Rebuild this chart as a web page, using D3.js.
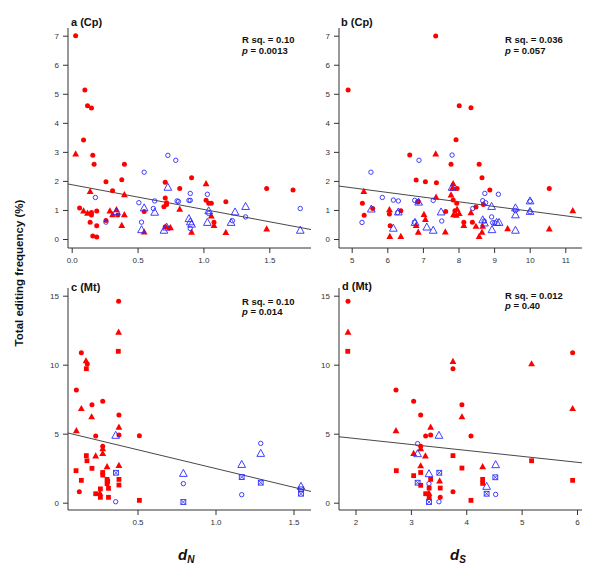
<!DOCTYPE html>
<html><head><meta charset="utf-8">
<script src="https://cdn.jsdelivr.net/npm/d3@7"></script>
<style>body{margin:0;background:#fff;} svg{display:block;font-family:"Liberation Sans",Arial,sans-serif;}</style>
</head><body><svg id="chart" width="600" height="574"></svg>
<script>
// ---- data: [x, y, marker] ; rc=red circle, rt=red triangle, rs=red square, bc=blue circle, bt=blue triangle, bx=blue crossed square
const pointsA = [
 [0.03,7.0,"rc"],[0.10,5.13,"rc"],[0.12,4.59,"rc"],[0.15,4.51,"rc"],[0.09,3.41,"rc"],[0.16,2.88,"rc"],[0.17,2.57,"rc"],[0.40,2.57,"rc"],
 [0.38,2.04,"rc"],[0.26,1.97,"rc"],[0.31,1.66,"rc"],[0.71,1.95,"rc"],[0.06,1.07,"rc"],[0.19,0.96,"rc"],[0.15,0.91,"rc"],[0.15,0.83,"rc"],
 [0.35,0.83,"rc"],[0.55,0.95,"rc"],[0.70,1.11,"rc"],[0.71,1.41,"rc"],[0.72,1.25,"rc"],[0.14,0.58,"rc"],[0.19,0.46,"rc"],[0.26,0.64,"rc"],
 [0.16,0.10,"rc"],[0.19,0.07,"rc"],[0.71,0.42,"rc"],[0.74,0.38,"rc"],[0.91,2.11,"rc"],[0.82,1.74,"rc"],[1.48,1.74,"rc"],[1.68,1.69,"rc"],
 [1.02,1.33,"rc"],[1.04,1.23,"rc"],[1.06,1.23,"rc"],[1.17,1.28,"rc"],[1.08,0.58,"rc"],[0.72,1.19,"rc"],
 [0.03,2.92,"rt"],[0.14,1.63,"rt"],[0.40,1.52,"rt"],[0.09,0.96,"rt"],[0.12,0.88,"rt"],[0.29,0.96,"rt"],[0.31,0.83,"rt"],[0.34,1.0,"rt"],
 [0.40,0.83,"rt"],[0.38,0.46,"rt"],[0.55,0.24,"rt"],[1.02,1.90,"rt"],[0.82,1.02,"rt"],[1.06,0.79,"rt"],[1.08,0.46,"rt"],[0.91,0.23,"rt"],
 [1.17,0.22,"rt"],[1.48,0.34,"rt"],[0.75,0.38,"rt"],
 [0.18,1.43,"bc"],[0.55,2.30,"bc"],[0.73,2.88,"bc"],[0.79,2.71,"bc"],[0.51,1.25,"bc"],[0.63,1.31,"bc"],[0.62,1.05,"bc"],[0.26,0.58,"bc"],
 [0.53,0.58,"bc"],[0.90,1.57,"bc"],[1.03,1.54,"bc"],[0.80,1.31,"bc"],[0.81,1.29,"bc"],[0.89,1.33,"bc"],[0.90,1.33,"bc"],[1.04,0.88,"bc"],
 [1.32,0.76,"bc"],[1.22,0.63,"bc"],[0.90,0.36,"bc"],[1.735,1.05,"bc"],
 [0.73,1.77,"bt"],[0.34,0.93,"bt"],[0.55,1.06,"bt"],[0.63,0.91,"bt"],[0.53,0.31,"bt"],[0.70,0.29,"bt"],[1.32,1.11,"bt"],[1.04,0.96,"bt"],
 [1.24,0.92,"bt"],[1.21,0.56,"bt"],[0.89,0.69,"bt"],[0.90,0.58,"bt"],[0.91,0.50,"bt"],[1.03,0.56,"bt"],[1.735,0.29,"bt"],[0.72,0.40,"bt"]
];
const pointsB = [
 [4.90,5.13,"rc"],[7.36,6.99,"rc"],[6.63,2.89,"rc"],[6.81,2.03,"rc"],[7.07,1.97,"rc"],[7.38,1.94,"rc"],[5.30,1.23,"rc"],[5.35,0.82,"rc"],
 [5.59,1.05,"rc"],[6.06,0.86,"rc"],[6.38,0.97,"rc"],[6.08,0.46,"rc"],[6.87,1.28,"rc"],[7.64,0.95,"rc"],[8.02,4.59,"rc"],[8.35,4.52,"rc"],
 [7.93,3.42,"rc"],[7.79,2.57,"rc"],[8.58,2.57,"rc"],[8.66,2.11,"rc"],[7.96,1.74,"rc"],[7.85,1.34,"rc"],[7.95,1.23,"rc"],[8.88,1.69,"rc"],
 [10.55,1.74,"rc"],[8.70,1.19,"rc"],[8.49,1.10,"rc"],[7.90,0.97,"rc"],[8.15,0.58,"rc"],[8.39,0.58,"rc"],
 [7.36,2.92,"rt"],[5.34,1.63,"rt"],[6.06,1.0,"rt"],[6.07,0.08,"rt"],[6.38,0.08,"rt"],[6.81,0.46,"rt"],[6.87,0.23,"rt"],[7.03,0.84,"rt"],
 [7.07,0.67,"rt"],[7.37,1.43,"rt"],[7.63,0.24,"rt"],[7.85,1.90,"rt"],[7.83,1.74,"rt"],[7.79,1.51,"rt"],[11.21,0.97,"rt"],[7.96,1.02,"rt"],
 [7.86,0.83,"rt"],[7.94,0.81,"rt"],[8.02,0.87,"rt"],[8.35,0.90,"rt"],[8.15,0.46,"rt"],[8.49,0.43,"rt"],[8.68,0.43,"rt"],[8.66,0.23,"rt"],
 [8.58,0.08,"rt"],[9.38,0.35,"rt"],[10.55,0.34,"rt"],
 [5.54,2.30,"bc"],[6.89,2.71,"bc"],[5.29,0.57,"bc"],[5.86,1.43,"bc"],[6.17,1.34,"bc"],[6.31,1.31,"bc"],[6.29,0.91,"bc"],[6.76,0.58,"bc"],
 [6.77,1.33,"bc"],[6.85,1.28,"bc"],[7.29,1.33,"bc"],[7.53,0.62,"bc"],[7.82,2.89,"bc"],[8.74,1.57,"bc"],[9.12,1.54,"bc"],[8.68,1.32,"bc"],
 [8.76,1.25,"bc"],[8.40,1.05,"bc"],[9.60,0.98,"bc"],[10.01,1.30,"bc"],[10.01,0.94,"bc"],[8.93,0.76,"bc"],[8.96,0.56,"bc"],[9.02,0.56,"bc"],
 [8.72,0.62,"bc"],
 [5.55,1.02,"bt"],[6.31,0.92,"bt"],[6.17,0.36,"bt"],[6.78,0.56,"bt"],[6.88,1.26,"bt"],[7.11,0.40,"bt"],[7.29,0.29,"bt"],[7.51,0.92,"bt"],
 [7.82,1.77,"bt"],[8.93,1.11,"bt"],[9.60,1.06,"bt"],[9.60,0.82,"bt"],[10.01,1.30,"bt"],[10.01,0.94,"bt"],[8.68,0.65,"bt"],[8.73,0.54,"bt"],
 [9.07,0.56,"bt"],[9.14,0.56,"bt"],[8.94,0.31,"bt"],[9.60,0.29,"bt"]
];
const pointsC = [
 [0.379,14.59,"rc"],[0.140,10.87,"rc"],[0.178,10.05,"rc"],[0.108,8.17,"rc"],[0.277,7.35,"rc"],[0.208,7.10,"rc"],[0.381,6.36,"rc"],
 [0.381,4.91,"rc"],[0.232,4.84,"rc"],[0.512,4.86,"rc"],[0.277,4.09,"rc"],[0.127,0.80,"rc"],
 [0.379,12.35,"rt"],[0.170,10.27,"rt"],[0.140,6.81,"rt"],[0.206,6.21,"rt"],[0.108,5.20,"rt"],[0.381,5.46,"rt"],[0.277,3.90,"rt"],
 [0.277,3.56,"rt"],[0.232,3.38,"rt"],[0.305,2.59,"rt"],[0.381,2.68,"rt"],[0.259,0.67,"rt"],
 [0.377,10.97,"rs"],[0.172,9.71,"rs"],[0.172,3.41,"rs"],[0.176,3.04,"rs"],[0.208,2.49,"rs"],[0.106,2.32,"rs"],[0.277,2.19,"rs"],
 [0.277,2.0,"rs"],[0.140,1.62,"rs"],[0.305,1.69,"rs"],[0.309,1.55,"rs"],[0.381,1.69,"rs"],[0.305,1.38,"rs"],[0.381,1.28,"rs"],
 [0.314,1.04,"rs"],[0.262,1.0,"rs"],[0.232,0.65,"rs"],[0.262,0.39,"rs"],[0.314,0.39,"rs"],[0.512,0.17,"rs"],
 [0.360,0.07,"bc"],[1.290,4.30,"bc"],[0.794,1.38,"bc"],[1.168,0.58,"bc"],
 [0.360,4.86,"bt"],[1.290,3.55,"bt"],[1.168,2.75,"bt"],[0.794,2.10,"bt"],[1.548,1.16,"bt"],
 [0.362,2.17,"bx"],[1.168,1.86,"bx"],[1.290,1.45,"bx"],[0.794,0.05,"bx"],[1.548,0.97,"bx"],[1.548,0.65,"bx"]
];
const pointsD = [
 [1.865,14.59,"rc"],[2.731,8.17,"rc"],[3.05,7.35,"rc"],[3.177,6.36,"rc"],[3.357,4.91,"rc"],[3.267,4.84,"rc"],[3.177,4.09,"rc"],
 [3.53,0.39,"rc"],[5.921,10.87,"rc"],[3.76,9.71,"rc"],[3.922,7.10,"rc"],[4.085,4.84,"rc"],[3.76,0.80,"rc"],
 [1.865,12.35,"rt"],[3.357,5.46,"rt"],[2.731,5.20,"rt"],[3.177,3.90,"rt"],[3.05,3.56,"rt"],[3.262,3.38,"rt"],[3.177,2.66,"rt"],
 [3.519,1.57,"rt"],[3.327,0.67,"rt"],[3.76,10.22,"rt"],[5.18,10.05,"rt"],[3.922,6.21,"rt"],[5.921,6.81,"rt"],[4.296,2.59,"rt"],
 [1.86,10.97,"rs"],[2.737,2.32,"rs"],[3.05,1.96,"rs"],[3.177,2.19,"rs"],[3.357,1.69,"rs"],[3.177,1.26,"rs"],[3.33,1.06,"rs"],
 [3.53,1.06,"rs"],[3.267,0.65,"rs"],[3.33,0.39,"rs"],[3.76,3.41,"rs"],[3.922,2.51,"rs"],[5.18,3.04,"rs"],[4.296,1.69,"rs"],
 [4.296,1.40,"rs"],[4.085,0.17,"rs"],[5.921,1.62,"rs"],
 [3.122,4.28,"bc"],[3.327,1.38,"bc"],[3.507,0.07,"bc"],[4.531,0.60,"bc"],
 [3.507,4.86,"bt"],[3.122,3.53,"bt"],[3.327,2.08,"bt"],[4.531,2.73,"bt"],[4.368,1.16,"bt"],
 [3.513,2.17,"bx"],[3.122,1.45,"bx"],[3.327,0.05,"bx"],[4.525,1.84,"bx"],[4.368,0.65,"bx"]
];
// regression lines: [intercept, slope]
const fitA = [1.87, -0.85];
const fitB = [2.57, -0.161];
const fitC = [5.20, -2.72];
const fitD = [5.51, -0.43];
// tick labels
const xTicksA = [0, 0.5, 1.0, 1.5];
const xTicksB = [5, 6, 7, 8, 9, 10, 11];
const xTicksC = [0.5, 1.0, 1.5];
const xTicksD = [2, 3, 4, 5, 6];
const yTicksCp = [0, 1, 2, 3, 4, 5, 6, 7];
const yTicksMt = [0, 5, 10, 15];
const titles = ["a (Cp)", "b (Cp)", "c (Mt)", "d (Mt)"];
const rsqLabels = ["0.10", "0.036", "0.10", "0.012"];
const pLabels = ["0.0013", "0.057", "0.014", "0.40"];

// ---- layout
const RED = "#ff0000", BLUE = "#2a2aff", AXC = "#333";
const svg = d3.select("#chart");

const panels = [
 {pts: pointsA, fit: fitA, xt: xTicksA, yt: yTicksCp, fmt: d3.format(".1f"),
  box: [68, 311, 28, 248], xd: [0, 1.5], xr: [71.7, 269.3], yd: [0, 7], yr: [239, 35.7],
  title: [71, 25.7], stat: [242, 42.7]},
 {pts: pointsB, fit: fitB, xt: xTicksB, yt: yTicksCp, fmt: d3.format("d"),
  box: [339, 582, 28, 248], xd: [5, 11], xr: [351.7, 565.3], yd: [0, 7], yr: [239, 35.7],
  title: [341, 25.5], stat: [505, 43.3]},
 {pts: pointsC, fit: fitC, xt: xTicksC, yt: yTicksMt, fmt: d3.format(".1f"),
  box: [68, 311, 288, 510], xd: [0.5, 1.5], xr: [137.5, 293.5], yd: [0, 15], yr: [502.7, 295.7],
  title: [71, 291], stat: [242, 304.5]},
 {pts: pointsD, fit: fitD, xt: xTicksD, yt: yTicksMt, fmt: d3.format("d"),
  box: [339, 582, 288, 510], xd: [2, 6], xr: [355.5, 577], yd: [0, 15], yr: [502.7, 295.7],
  title: [342, 290], stat: [505, 298.5]}
];

panels.forEach((p, i) => {
  const [L, R, T, B] = p.box;
  const x = d3.scaleLinear().domain(p.xd).range(p.xr);
  const y = d3.scaleLinear().domain(p.yd).range(p.yr);
  const g = svg.append("g");

  // L-shaped box
  g.append("path").attr("d", `M${L},${T}V${B}H${R}`).attr("fill", "none")
    .attr("stroke", AXC).attr("stroke-width", 1);

  // axes
  const ax = g.append("g").attr("transform", `translate(0,${B})`)
    .call(d3.axisBottom(x).tickValues(p.xt).tickFormat(p.fmt).tickSize(5).tickPadding(4));
  const ay = g.append("g").attr("transform", `translate(${L},0)`)
    .call(d3.axisLeft(y).tickValues(p.yt).tickFormat(d3.format("d")).tickSize(5).tickPadding(4));
  [ax, ay].forEach(a => {
    a.select(".domain").remove();
    a.selectAll("line").attr("stroke", AXC);
    a.selectAll("text").attr("fill", "#333").style("font-size", "8px")
      .style("font-family", "'Liberation Sans', Arial, sans-serif");
  });

  // regression line
  const xl = x.invert(L), xr2 = x.invert(R);
  g.append("line")
    .attr("x1", x(xl)).attr("y1", y(p.fit[0] + p.fit[1] * xl))
    .attr("x2", x(xr2)).attr("y2", y(p.fit[0] + p.fit[1] * xr2))
    .attr("stroke", "#333").attr("stroke-width", 0.9);

  // points
  const tri = s => `M0,${-s*0.62}L${s*0.55},${s*0.38}L${-s*0.55},${s*0.38}Z`;
  p.pts.forEach(d => {
    const cx = x(d[0]), cy = y(d[1]);
    const m = d[2];
    if (m === "rc") g.append("circle").attr("cx", cx).attr("cy", cy).attr("r", 2.5).attr("fill", RED);
    else if (m === "rt") g.append("path").attr("d", tri(6.2)).attr("transform", `translate(${cx},${cy})`).attr("fill", RED);
    else if (m === "rs") g.append("rect").attr("x", cx - 2.4).attr("y", cy - 2.4).attr("width", 4.8).attr("height", 4.8).attr("fill", RED);
    else if (m === "bc") g.append("circle").attr("cx", cx).attr("cy", cy).attr("r", 2.2).attr("fill", "none").attr("stroke", BLUE).attr("stroke-width", 0.9);
    else if (m === "bt") g.append("path").attr("d", tri(7)).attr("transform", `translate(${cx},${cy})`).attr("fill", "none").attr("stroke", BLUE).attr("stroke-width", 0.9);
    else if (m === "bx") {
      const s = g.append("g").attr("transform", `translate(${cx},${cy})`);
      s.append("rect").attr("x", -2.4).attr("y", -2.4).attr("width", 4.8).attr("height", 4.8).attr("fill", "none").attr("stroke", BLUE).attr("stroke-width", 0.9);
      s.append("path").attr("d", "M-2.4,-2.4L2.4,2.4M2.4,-2.4L-2.4,2.4").attr("stroke", BLUE).attr("stroke-width", 0.8);
    }
  });

  // title
  g.append("text").attr("x", p.title[0]).attr("y", p.title[1]).text(titles[i])
    .style("font-size", "11px").style("font-weight", "bold").attr("fill", "#111");

  // stats
  g.append("text").attr("x", p.stat[0]).attr("y", p.stat[1])
    .style("font-size", "9.5px").style("font-weight", "bold").attr("fill", "#111")
    .text("R sq. = " + rsqLabels[i]);
  const pt = g.append("text").attr("x", p.stat[0]).attr("y", p.stat[1] + 10.8)
    .style("font-size", "9.5px").style("font-weight", "bold").attr("fill", "#111");
  pt.append("tspan").style("font-style", "italic").text("p");
  pt.append("tspan").text(" = " + pLabels[i]);
});

// y axis title
svg.append("text").attr("transform", "translate(23,273) rotate(-90)")
  .attr("text-anchor", "middle").style("font-size", "11.5px").style("font-weight", "bold")
  .attr("fill", "#111").text("Total editing frequency (%)");

// x axis titles
[["N", 178], ["S", 450]].forEach(([sub, xx]) => {
  const t = svg.append("text").attr("x", xx).attr("y", 560).attr("fill", "#111")
    .style("font-weight", "bold").style("font-style", "italic");
  t.append("tspan").style("font-size", "15px").text("d");
  t.append("tspan").attr("dy", 3).style("font-size", "10px").text(sub);
});
</script>
</body></html>
